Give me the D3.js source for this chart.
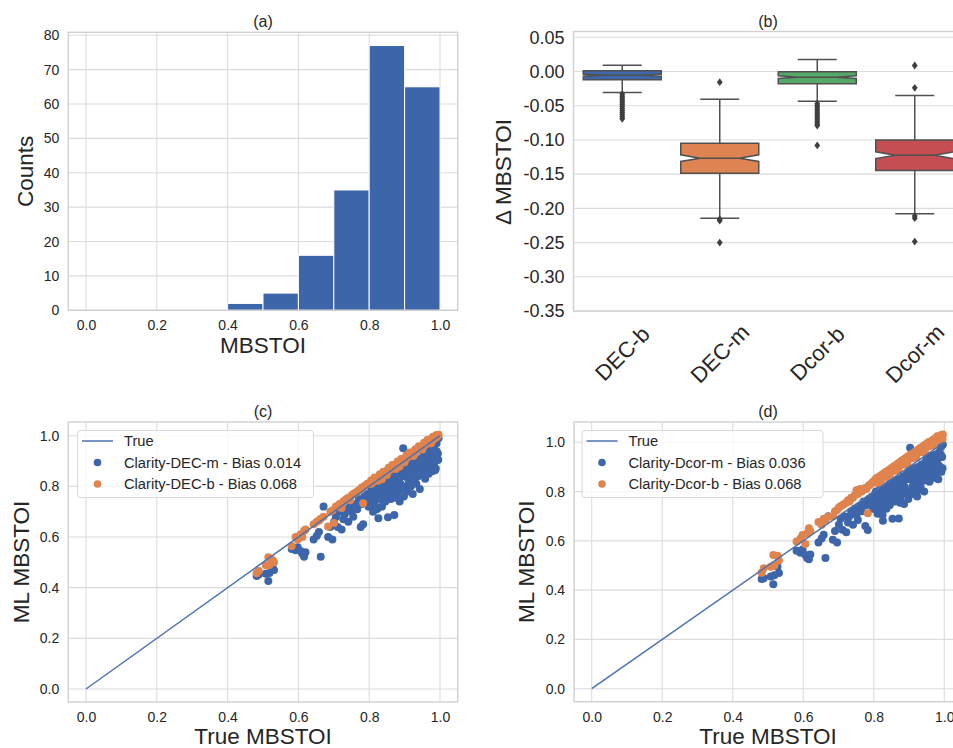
<!DOCTYPE html>
<html>
<head>
<meta charset="utf-8">
<script src="https://cdn.jsdelivr.net/npm/d3@7"></script>
<style>
  body { margin: 0; background: #fff; }
  svg text { font-family: "Liberation Sans", Arial, sans-serif; fill: #262626; }
</style>
</head>
<body>
<svg id="chart" width="953" height="748"></svg>
<script>
// ---- data ----
// (a) histogram of true MBSTOI
const histBinEdges = [0.4, 0.5, 0.6, 0.7, 0.8, 0.9, 1.0];
const histCounts = [2, 5, 16, 35, 77, 65];

// (b) box plot summaries of delta MBSTOI
const boxCategories = ["DEC-b", "DEC-m", "Dcor-b", "Dcor-m"];
const boxQ1 = [-0.012, -0.1486, -0.018, -0.1447];
const boxMedian = [-0.0053, -0.1266, -0.0082, -0.1223];
const boxQ3 = [0.001, -0.1047, -0.0005, -0.0999];
const whiskerLow = [-0.0307, -0.2143, -0.0433, -0.208];
const whiskerHigh = [0.0093, -0.0404, 0.0175, -0.0351];
const boxOutliers = [
  [-0.033, -0.036, -0.039, -0.042, -0.045, -0.048, -0.051, -0.054, -0.057, -0.060, -0.063, -0.066, -0.069],
  [-0.0155, -0.2158, -0.218, -0.25],
  [-0.047, -0.050, -0.053, -0.056, -0.059, -0.062, -0.065, -0.068, -0.071, -0.074, -0.077, -0.079, -0.108],
  [0.0088, -0.0238, -0.211, -0.2143, -0.2485]
];
const boxSampleSize = 200;

// (c), (d) scatter: true vs ML MBSTOI
const trueMbstoi = [
  0.482, 0.488, 0.508, 0.515, 0.518, 0.527, 0.531,
  0.581, 0.592, 0.598, 0.606, 0.611, 0.616, 0.620,
  0.643, 0.652, 0.658, 0.663, 0.671, 0.684, 0.690, 0.696,
  0.701, 0.706, 0.711, 0.716, 0.722, 0.727, 0.731, 0.736, 0.741, 0.746, 0.751, 0.755, 0.761, 0.766, 0.771, 0.776, 0.779, 0.783, 0.786, 0.791, 0.795, 0.798,
  0.801, 0.803, 0.806, 0.808, 0.811, 0.813, 0.816, 0.818, 0.821, 0.823,
  0.826, 0.828, 0.831, 0.833, 0.836, 0.838, 0.841, 0.843, 0.846, 0.848,
  0.851, 0.853, 0.856, 0.858, 0.861, 0.863, 0.866, 0.868, 0.871, 0.873,
  0.876, 0.878, 0.881, 0.883, 0.886, 0.888, 0.891, 0.893, 0.896, 0.898,
  0.901, 0.903, 0.906, 0.908, 0.911, 0.913, 0.916, 0.918, 0.921, 0.923,
  0.926, 0.928, 0.931, 0.933, 0.936, 0.938, 0.941, 0.943, 0.946, 0.948,
  0.951, 0.953, 0.956, 0.958, 0.961, 0.963, 0.966, 0.968, 0.971, 0.973,
  0.976, 0.978, 0.981, 0.983, 0.986, 0.988, 0.990, 0.992, 0.994, 0.996,
  0.805, 0.810, 0.815, 0.820, 0.825, 0.830, 0.835, 0.840, 0.845, 0.850,
  0.855, 0.860, 0.865, 0.870, 0.875, 0.880, 0.885, 0.890, 0.895, 0.900,
  0.905, 0.910, 0.915, 0.920, 0.925, 0.930, 0.935, 0.940, 0.945, 0.950,
  0.955, 0.960, 0.965, 0.970, 0.975, 0.980, 0.985, 0.990, 0.995
];
const mlDecM = [
  0.446, 0.452, 0.455, 0.426, 0.458, 0.490, 0.470,
  0.553, 0.548, 0.560, 0.545, 0.535, 0.522, 0.540,
  0.590, 0.605, 0.620, 0.522, 0.720, 0.600, 0.640, 0.590,
  0.660, 0.680, 0.640, 0.700, 0.630, 0.670, 0.690, 0.710, 0.660, 0.720, 0.700, 0.680, 0.730, 0.710, 0.750, 0.640, 0.730, 0.650, 0.760, 0.740, 0.770, 0.720,
  0.750, 0.720, 0.790, 0.760, 0.700, 0.780, 0.740, 0.800, 0.710, 0.770,
  0.674, 0.790, 0.750, 0.810, 0.720, 0.780, 0.760, 0.820, 0.740, 0.800,
  0.770, 0.678, 0.830, 0.790, 0.750, 0.810, 0.770, 0.840, 0.687, 0.800,
  0.760, 0.830, 0.780, 0.850, 0.740, 0.810, 0.790, 0.860, 0.950, 0.760,
  0.840, 0.800, 0.870, 0.780, 0.850, 0.820, 0.880, 0.800, 0.860, 0.770,
  0.890, 0.830, 0.870, 0.810, 0.900, 0.840, 0.880, 0.790, 0.910, 0.850,
  0.890, 0.860, 0.920, 0.830, 0.900, 0.870, 0.930, 0.850, 0.910, 0.880,
  0.940, 0.860, 0.920, 0.890, 0.864, 0.870, 0.970, 0.904, 0.930, 0.990,
  0.765, 0.730, 0.795, 0.760, 0.715, 0.800, 0.765, 0.790, 0.755, 0.840,
  0.815, 0.780, 0.845, 0.810, 0.755, 0.850, 0.815, 0.840, 0.795, 0.880,
  0.865, 0.830, 0.895, 0.860, 0.815, 0.900, 0.865, 0.890, 0.855, 0.940,
  0.915, 0.880, 0.945, 0.910, 0.865, 0.950, 0.915, 0.940, 0.905
];
const mlDecB = [
  0.457, 0.466, 0.489, 0.520, 0.490, 0.509, 0.500,
  0.565, 0.600, 0.590, 0.610, 0.600, 0.625, 0.630,
  0.650, 0.660, 0.665, 0.672, 0.680, 0.641, 0.700, 0.705,
  0.655, 0.720, 0.720, 0.730, 0.715, 0.740, 0.745, 0.750, 0.755, 0.745, 0.765, 0.770, 0.775, 0.780, 0.785, 0.790, 0.795, 0.733, 0.800, 0.805, 0.810, 0.810,
  0.812, 0.815, 0.810, 0.822, 0.818, 0.824, 0.823, 0.829, 0.830, 0.835,
  0.834, 0.840, 0.838, 0.845, 0.828, 0.850, 0.849, 0.855, 0.852, 0.860,
  0.858, 0.865, 0.863, 0.870, 0.868, 0.875, 0.872, 0.880, 0.876, 0.885,
  0.882, 0.890, 0.887, 0.893, 0.878, 0.898, 0.897, 0.904, 0.902, 0.908,
  0.907, 0.914, 0.912, 0.918, 0.918, 0.923, 0.922, 0.928, 0.927, 0.933,
  0.932, 0.938, 0.936, 0.943, 0.942, 0.948, 0.946, 0.953, 0.951, 0.958,
  0.957, 0.962, 0.961, 0.967, 0.966, 0.972, 0.971, 0.977, 0.976, 0.982,
  0.981, 0.986, 0.985, 0.991, 0.990, 0.995, 0.995, 1.000, 0.999, 1.004,
  0.823, 0.818, 0.835, 0.832, 0.822, 0.848, 0.843, 0.858, 0.855, 0.845,
  0.873, 0.868, 0.884, 0.880, 0.868, 0.898, 0.893, 0.908, 0.905, 0.895,
  0.922, 0.918, 0.934, 0.930, 0.920, 0.946, 0.942, 0.958, 0.955, 0.945,
  0.972, 0.968, 0.984, 0.980, 0.970, 0.996, 0.993, 1.003, 1.002
];
const mlDcorM = [
  0.445, 0.448, 0.455, 0.424, 0.460, 0.495, 0.470,
  0.560, 0.552, 0.565, 0.543, 0.530, 0.525, 0.545,
  0.593, 0.610, 0.625, 0.530, 0.700, 0.604, 0.640, 0.593,
  0.665, 0.690, 0.645, 0.700, 0.635, 0.675, 0.700, 0.720, 0.665, 0.730, 0.705, 0.685, 0.740, 0.720, 0.760, 0.660, 0.745, 0.644, 0.770, 0.750, 0.780, 0.730,
  0.760, 0.730, 0.800, 0.770, 0.710, 0.790, 0.750, 0.810, 0.720, 0.780,
  0.682, 0.800, 0.760, 0.820, 0.730, 0.790, 0.770, 0.830, 0.750, 0.810,
  0.780, 0.690, 0.840, 0.800, 0.760, 0.820, 0.780, 0.850, 0.691, 0.810,
  0.770, 0.840, 0.790, 0.860, 0.750, 0.820, 0.800, 0.870, 0.800, 0.770,
  0.850, 0.978, 0.880, 0.790, 0.860, 0.830, 0.890, 0.810, 0.870, 0.780,
  0.900, 0.840, 0.880, 0.820, 0.910, 0.850, 0.890, 0.800, 0.920, 0.860,
  0.900, 0.870, 0.930, 0.840, 0.910, 0.880, 0.940, 0.860, 0.920, 0.890,
  0.950, 0.870, 0.930, 0.850, 0.960, 0.900, 0.980, 0.880, 0.940, 0.990,
  0.755, 0.720, 0.795, 0.750, 0.705, 0.800, 0.755, 0.800, 0.745, 0.840,
  0.805, 0.770, 0.845, 0.800, 0.755, 0.850, 0.805, 0.850, 0.795, 0.890,
  0.855, 0.820, 0.895, 0.850, 0.805, 0.900, 0.855, 0.900, 0.845, 0.940,
  0.905, 0.870, 0.945, 0.900, 0.855, 0.950, 0.905, 0.950, 0.895
];
const mlDcorB = [
  0.471, 0.489, 0.495, 0.543, 0.500, 0.540, 0.520,
  0.597, 0.610, 0.624, 0.587, 0.630, 0.651, 0.640,
  0.677, 0.665, 0.690, 0.685, 0.698, 0.700, 0.720, 0.725,
  0.735, 0.740, 0.745, 0.750, 0.755, 0.765, 0.760, 0.775, 0.775, 0.785, 0.805, 0.790, 0.810, 0.800, 0.810, 0.815, 0.810, 0.712, 0.825, 0.830, 0.835, 0.840,
  0.840, 0.845, 0.843, 0.855, 0.850, 0.858, 0.855, 0.863, 0.860, 0.868,
  0.865, 0.872, 0.870, 0.878, 0.874, 0.883, 0.880, 0.888, 0.885, 0.893,
  0.890, 0.898, 0.895, 0.903, 0.900, 0.908, 0.905, 0.913, 0.910, 0.918,
  0.915, 0.923, 0.920, 0.928, 0.925, 0.933, 0.930, 0.938, 0.935, 0.943,
  0.940, 0.947, 0.945, 0.952, 0.950, 0.957, 0.955, 0.962, 0.960, 0.967,
  0.965, 0.972, 0.970, 0.977, 0.975, 0.982, 0.980, 0.987, 0.985, 0.992,
  0.990, 0.996, 0.994, 1.000, 0.998, 1.004, 1.003, 1.010, 1.008, 1.014,
  1.013, 1.018, 1.017, 1.022, 1.021, 1.026, 1.025, 1.030, 1.028, 1.032,
  0.850, 0.835, 0.853, 0.838, 0.857, 0.875, 0.860, 0.878, 0.863, 0.882,
  0.900, 0.885, 0.903, 0.888, 0.907, 0.925, 0.910, 0.928, 0.913, 0.932,
  0.950, 0.935, 0.953, 0.938, 0.957, 0.975, 0.960, 0.978, 0.963, 0.982,
  1.000, 0.985, 1.003, 0.988, 1.007, 1.025, 1.010, 1.028, 1.013
];

const unitTicks = [0, 0.2, 0.4, 0.6, 0.8, 1.0];
const countTicks = [0, 10, 20, 30, 40, 50, 60, 70, 80];
const deltaTicks = [0.05, 0, -0.05, -0.1, -0.15, -0.2, -0.25, -0.3, -0.35];

// ---- style ----
const blue = "#3d65aa";
const orange = "#e0834d";
const boxColors = ["#3f67ab", "#dd8452", "#55a868", "#c44e52"];
const boxLine = "#505050";
const gridColor = "#dcdcdc";
const spineColor = "#d0d0d0";

const svg = d3.select("#chart");

function grid(g, xScale, yScale, xVals, yVals, box) {
  g.selectAll(null).data(xVals).join("line")
    .attr("x1", d => xScale(d)).attr("x2", d => xScale(d))
    .attr("y1", box.y0).attr("y2", box.y1)
    .attr("stroke", gridColor).attr("stroke-width", 1.1);
  g.selectAll(null).data(yVals).join("line")
    .attr("x1", box.x0).attr("x2", box.x1)
    .attr("y1", d => yScale(d)).attr("y2", d => yScale(d))
    .attr("stroke", gridColor).attr("stroke-width", 1.1);
}

function spines(g, box) {
  g.append("rect")
    .attr("x", box.x0).attr("y", box.y0)
    .attr("width", box.x1 - box.x0).attr("height", box.y1 - box.y0)
    .attr("fill", "none").attr("stroke", spineColor).attr("stroke-width", 1.4);
}

function leftAxis(g, scale, vals, fmt, x, size) {
  g.append("g").attr("transform", `translate(${x},0)`)
    .call(d3.axisLeft(scale).tickValues(vals).tickFormat(fmt).tickSize(0).tickPadding(9))
    .call(a => a.select(".domain").remove())
    .attr("font-family", null).attr("font-size", size);
}

function bottomAxis(g, scale, vals, fmt, y, size) {
  g.append("g").attr("transform", `translate(0,${y})`)
    .call(d3.axisBottom(scale).tickValues(vals).tickFormat(fmt).tickSize(0).tickPadding(10))
    .call(a => a.select(".domain").remove())
    .attr("font-family", null).attr("font-size", size);
}

function title(g, text, x, y) {
  g.append("text").attr("x", x).attr("y", y).attr("dy", "0.35em")
    .attr("text-anchor", "middle").style("font-size", "16px").text(text);
}

function yLabel(g, text, x, y) {
  g.append("text").attr("transform", `translate(${x},${y}) rotate(-90)`)
    .attr("dy", "0.35em").attr("text-anchor", "middle")
    .style("font-size", "22.5px").text(text);
}

function xLabel(g, text, x, y) {
  g.append("text").attr("x", x).attr("y", y)
    .attr("text-anchor", "middle").style("font-size", "22.5px").text(text);
}

// ---- (a) histogram ----
{
  const box = {x0: 68.3, x1: 457.7, y0: 32.3, y1: 310.3};
  const x = d3.scaleLinear().domain([-0.05, 1.05]).range([box.x0, box.x1]);
  const y = d3.scaleLinear().domain([0, 80.85]).range([box.y1, box.y0]);
  const g = svg.append("g");
  grid(g, x, y, unitTicks, countTicks, box);

  g.selectAll(".bar").data(histCounts).join("rect")
    .attr("class", "bar")
    .attr("x", (d, i) => x(histBinEdges[i]))
    .attr("width", (d, i) => x(histBinEdges[i + 1]) - x(histBinEdges[i]))
    .attr("y", d => y(d))
    .attr("height", d => y(0) - y(d))
    .attr("fill", blue).attr("stroke", "#fff").attr("stroke-width", 1);

  spines(g, box);
  leftAxis(g, y, countTicks, d3.format("d"), box.x0, 14);
  bottomAxis(g, x, unitTicks, d3.format(".1f"), box.y1, 14);
  title(g, "(a)", (box.x0 + box.x1) / 2, 21);
  yLabel(g, "Counts", 25.5, (box.y0 + box.y1) / 2);
  xLabel(g, "MBSTOI", (box.x0 + box.x1) / 2, 353);
}

// ---- (b) box plot ----
{
  const box = {x0: 573.5, x1: 963.5, y0: 31.5, y1: 311};
  const x = d3.scaleBand().domain(boxCategories).range([box.x0, box.x1]);
  const y = d3.scaleLinear().domain([-0.35, 0.0585]).range([box.y1, box.y0]);
  const g = svg.append("g");
  grid(g, x, y, [], deltaTicks, box);

  const bw = x.bandwidth() * 0.8;
  boxCategories.forEach((cat, i) => {
    const cx = x(cat) + x.bandwidth() / 2;
    const L = cx - bw / 2, R = cx + bw / 2;
    const cL = cx - bw / 4, cR = cx + bw / 4;
    const notch = 1.57 * (boxQ3[i] - boxQ1[i]) / Math.sqrt(boxSampleSize);
    const nLo = boxMedian[i] - notch, nHi = boxMedian[i] + notch;
    const bg = g.append("g");

    // whiskers and caps
    [[boxQ1[i], whiskerLow[i]], [boxQ3[i], whiskerHigh[i]]].forEach(([a, b]) => {
      bg.append("line").attr("x1", cx).attr("x2", cx).attr("y1", y(a)).attr("y2", y(b))
        .attr("stroke", boxLine).attr("stroke-width", 1.5);
      bg.append("line").attr("x1", cL).attr("x2", cR).attr("y1", y(b)).attr("y2", y(b))
        .attr("stroke", boxLine).attr("stroke-width", 1.5);
    });

    const pts = [[L, boxQ1[i]], [R, boxQ1[i]], [R, nLo], [cR, boxMedian[i]], [R, nHi], [R, boxQ3[i]],
                 [L, boxQ3[i]], [L, nHi], [cL, boxMedian[i]], [L, nLo]];
    bg.append("path")
      .attr("d", d3.line().x(p => p[0]).y(p => y(p[1]))(pts) + "Z")
      .attr("fill", boxColors[i]).attr("stroke", boxLine).attr("stroke-width", 1.5)
      .attr("stroke-linejoin", "miter");
    bg.append("line").attr("x1", cL).attr("x2", cR)
      .attr("y1", y(boxMedian[i])).attr("y2", y(boxMedian[i]))
      .attr("stroke", boxLine).attr("stroke-width", 1.5);

    bg.selectAll(".flier").data(boxOutliers[i]).join("path")
      .attr("class", "flier")
      .attr("d", d => `M${cx},${y(d) - 3.9}L${cx + 2.9},${y(d)}L${cx},${y(d) + 3.9}L${cx - 2.9},${y(d)}Z`)
      .attr("fill", "#3f3f3f");
  });

  spines(g, box);
  leftAxis(g, y, deltaTicks, d => d.toFixed(2), box.x0, 18);

  g.selectAll(".xlab").data(boxCategories).join("text")
    .attr("class", "xlab")
    .attr("transform", d => `translate(${x(d) + x.bandwidth() / 2},353.5) rotate(-45)`)
    .attr("dy", "0.35em").attr("text-anchor", "middle")
    .style("font-size", "22px").text(d => d);

  title(g, "(b)", 768, 21);
  yLabel(g, "\u0394 MBSTOI", 503, 172);
}

// ---- (c), (d) scatter ----
function scatterPanel(opts) {
  const {box, yDomain, series, label, legend} = opts;
  const x = d3.scaleLinear().domain([-0.05, 1.05]).range([box.x0, box.x1]);
  const y = d3.scaleLinear().domain(yDomain).range([box.y1, box.y0]);
  const g = svg.append("g");
  grid(g, x, y, unitTicks, unitTicks, box);

  series.forEach(s => {
    g.append("g").selectAll("circle").data(trueMbstoi).join("circle")
      .attr("cx", d => x(d))
      .attr("cy", (d, i) => y(s.values[i]))
      .attr("r", 4)
      .attr("fill", s.color);
  });

  g.append("line")
    .attr("x1", x(0)).attr("y1", y(0)).attr("x2", x(1)).attr("y2", y(1))
    .attr("stroke", "#4c72b0").attr("stroke-width", 1.5);

  spines(g, box);
  leftAxis(g, y, unitTicks, d3.format(".1f"), box.x0, 14);
  bottomAxis(g, x, unitTicks, d3.format(".1f"), box.y1, 14);
  title(g, label, (box.x0 + box.x1) / 2, 411.7);
  yLabel(g, "ML MBSTOI", opts.yLabelX, (box.y0 + box.y1) / 2);
  xLabel(g, "True MBSTOI", (box.x0 + box.x1) / 2, 744);

  // legend
  const lg = g.append("g").attr("transform", `translate(${legend.x},${legend.y})`);
  lg.append("rect").attr("width", legend.w).attr("height", 67).attr("rx", 3)
    .attr("fill", "#fff").attr("fill-opacity", 0.8)
    .attr("stroke", "#d8d8d8").attr("stroke-width", 1);
  lg.append("line").attr("x1", 4.5).attr("x2", 35.5).attr("y1", 10.5).attr("y2", 10.5)
    .attr("stroke", "#4c72b0").attr("stroke-width", 1.5);
  lg.append("text").attr("x", 46.5).attr("y", 10.5).attr("dy", "0.35em")
    .style("font-size", "14.7px").text("True");
  series.forEach((s, i) => {
    const ry = 32 + i * 21.5;
    lg.append("circle").attr("cx", 20).attr("cy", ry).attr("r", 3.8).attr("fill", s.color);
    lg.append("text").attr("x", 46.5).attr("y", ry).attr("dy", "0.35em")
      .style("font-size", "14.7px").text(s.name);
  });
}

scatterPanel({
  box: {x0: 68.3, x1: 457.7, y0: 422, y1: 702},
  yDomain: [-0.0513, 1.054],
  label: "(c)",
  yLabelX: 21,
  legend: {x: 77.5, y: 430.5, w: 236},
  series: [
    {name: "Clarity-DEC-m - Bias 0.014", values: mlDecM, color: blue},
    {name: "Clarity-DEC-b - Bias 0.068", values: mlDecB, color: orange}
  ]
});

scatterPanel({
  box: {x0: 574.1, x1: 961.9, y0: 422, y1: 701.7},
  yDomain: [-0.0528, 1.0824],
  label: "(d)",
  yLabelX: 526,
  legend: {x: 582, y: 430.5, w: 241},
  series: [
    {name: "Clarity-Dcor-m - Bias 0.036", values: mlDcorM, color: blue},
    {name: "Clarity-Dcor-b - Bias 0.068", values: mlDcorB, color: orange}
  ]
});
</script>
</body>
</html>
